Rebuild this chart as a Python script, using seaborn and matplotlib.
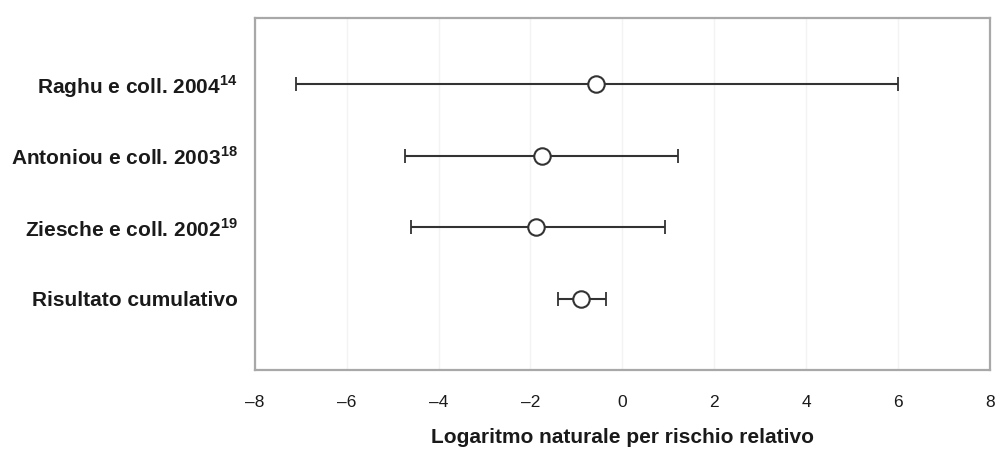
import numpy as np
import pandas as pd
import matplotlib
matplotlib.use('Agg')
import matplotlib.pyplot as plt
import seaborn as sns

# --- Data ---
studies = [
    r'Raghu e coll. 2004$^{\mathbf{14}}$',
    r'Antoniou e coll. 2003$^{\mathbf{18}}$',
    r'Ziesche e coll. 2002$^{\mathbf{19}}$',
    'Risultato cumulativo',
]
estimates = [-0.57, -1.75, -1.89, -0.91]
lower = [-7.1, -4.72, -4.6, -1.41]
upper = [6.0, 1.22, 0.93, -0.35]
x_ticks = [-8, -6, -4, -2, 0, 2, 4, 6, 8]

sns.set_style('white')
plt.rcParams['font.family'] = ['Liberation Sans', 'DejaVu Sans']
plt.rcParams['mathtext.fontset'] = 'custom'
plt.rcParams['mathtext.rm'] = 'Liberation Sans'
plt.rcParams['mathtext.bf'] = 'Liberation Sans:bold'

df = pd.DataFrame({'study': studies, 'est': estimates, 'lo': lower, 'hi': upper})
df['pos'] = np.arange(len(df))

fig = plt.figure(figsize=(10.03, 4.51), dpi=100)
ax = fig.add_axes([0.254, 0.180, 0.733, 0.780])

# confidence intervals
ax.errorbar(df['est'], df['pos'],
            xerr=[df['est'] - df['lo'], df['hi'] - df['est']],
            fmt='none', ecolor='#333333', elinewidth=1.5, capsize=5, capthick=1.3, zorder=2)

# point estimates
sns.scatterplot(data=df, x='est', y='pos', ax=ax, s=140, marker='o',
                facecolor='white', edgecolor='#333333', linewidth=1.5, zorder=3)

ax.set_xlim(-8, 8)
ax.set_ylim(3.99, -0.92)
ax.set_yticks(df['pos'])
ax.set_yticklabels(df['study'], fontsize=15, fontweight='bold', color='#1a1a1a')
ax.set_xticks(x_ticks)
ax.set_xticklabels([str(t).replace('-', '\u2013') for t in x_ticks], fontsize=12.5, color='#1a1a1a')
ax.tick_params(axis='both', length=0)
ax.tick_params(axis='x', pad=18)
ax.tick_params(axis='y', pad=12)
ax.set_xlabel('Logaritmo naturale per rischio relativo', fontsize=15,
              fontweight='bold', color='#1a1a1a', labelpad=13)
ax.set_ylabel('')

ax.grid(axis='x', color='#f3f3f3', linewidth=1)
for sp in ax.spines.values():
    sp.set_color('#a8a8a8')
    sp.set_linewidth(1.6)

fig.savefig('out.png', dpi=100)
